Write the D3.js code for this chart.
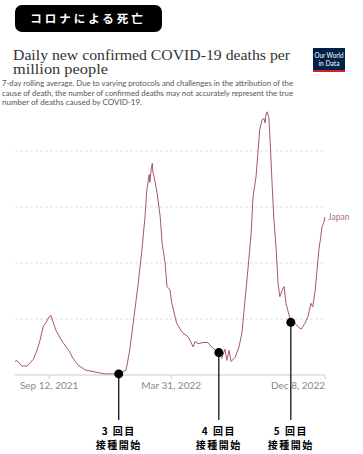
<!DOCTYPE html>
<html>
<head>
<meta charset="utf-8">
<script src="https://cdn.jsdelivr.net/npm/d3@7"></script>
<style>
  body { margin: 0; background: #fff; }
  svg { display: block; }
</style>
</head>
<body>
<div id="chart"></div>
<script>
// Japan, daily new confirmed COVID-19 deaths per million (7-day avg)
var dates = [
  "2021-07-18","2021-07-21","2021-07-29","2021-08-07","2021-08-17","2021-08-23","2021-08-28",
  "2021-09-02","2021-09-07","2021-09-12","2021-09-15","2021-09-18","2021-09-23","2021-09-30",
  "2021-10-06","2021-10-14","2021-10-21","2021-10-29","2021-11-10","2021-11-26","2021-12-12",
  "2021-12-29","2022-01-04","2022-01-09","2022-01-16","2022-01-22","2022-01-29","2022-02-05",
  "2022-02-11","2022-02-16","2022-02-19","2022-02-23","2022-02-24","2022-02-26","2022-02-28",
  "2022-03-01","2022-03-03","2022-03-08","2022-03-13","2022-03-16","2022-03-21","2022-03-24",
  "2022-03-29","2022-04-01","2022-04-09","2022-04-18","2022-04-28","2022-05-06","2022-05-09",
  "2022-05-14","2022-05-22","2022-05-30","2022-06-07","2022-06-17","2022-06-22","2022-06-27",
  "2022-06-30","2022-07-04","2022-07-07","2022-07-14","2022-07-20","2022-07-25","2022-07-30",
  "2022-08-04","2022-08-09","2022-08-12","2022-08-17","2022-08-20","2022-08-23","2022-08-27",
  "2022-08-30","2022-09-01","2022-09-02","2022-09-04","2022-09-07","2022-09-09","2022-09-12",
  "2022-09-15","2022-09-19","2022-09-22","2022-09-25","2022-09-29","2022-10-02","2022-10-05",
  "2022-10-08","2022-10-13","2022-10-20","2022-10-25","2022-10-30","2022-11-05","2022-11-10",
  "2022-11-15","2022-11-18","2022-11-22","2022-11-25","2022-11-28","2022-12-01","2022-12-03",
  "2022-12-06","2022-12-08"
];
var values = [
  0.12,0.13,0.08,0.08,0.14,0.22,0.31,
  0.43,0.47,0.52,0.53,0.48,0.40,0.33,
  0.28,0.22,0.15,0.09,0.045,0.027,0.01,
  0.01,0.01,0.025,0.045,0.22,0.52,0.82,
  1.12,1.41,1.65,1.79,1.72,1.83,1.89,
  1.81,1.77,1.62,1.41,1.18,1.0,0.79,
  0.76,0.64,0.46,0.38,0.34,0.25,0.30,
  0.28,0.29,0.29,0.24,0.20,0.15,0.23,
  0.13,0.22,0.12,0.16,0.25,0.38,0.67,
  0.96,1.27,1.59,1.77,1.98,2.19,2.28,
  2.29,2.25,2.32,2.35,2.30,2.10,1.74,
  1.41,1.12,0.82,0.70,0.76,0.79,0.64,
  0.58,0.47,0.46,0.43,0.41,0.46,0.52,
  0.64,0.61,0.76,0.94,1.12,1.23,1.32,
  1.36,1.41
];

var doseDates = ["2022-01-04", "2022-06-17", "2022-10-13"];
var doseLabels = ["3 回目", "4 回目", "5 回目"];
var tickDates = ["2021-09-12", "2022-03-31", "2022-12-08"];
var tickLabels = ["Sep 12, 2021", "Mar 31, 2022", "Dec 8, 2022"];
var gridValues = [0.5, 1, 1.5, 2];

var W = 363, H = 454;
var parse = d3.timeParse("%Y-%m-%d");
var series = dates.map(function(d, i) { return {date: parse(d), value: values[i]}; });

var svg = d3.select("#chart").append("svg")
    .attr("width", W)
    .attr("height", H);

// header badge
svg.append("rect")
    .attr("x", 15).attr("y", 5)
    .attr("width", 147).attr("height", 27)
    .attr("rx", 7)
    .attr("fill", "#000");
svg.append("text")
    .attr("x", 88).attr("y", 23)
    .attr("text-anchor", "middle")
    .attr("fill", "#fff")
    .style("font-family", "'Noto Sans CJK JP', sans-serif")
    .style("font-weight", "700")
    .style("font-size", "11.5px")
    .style("letter-spacing", "3px")
    .text("コロナによる死亡");

// title, two lines in one text block
var title = svg.append("text")
    .style("font-family", "'Liberation Serif', 'DejaVu Serif', serif")
    .style("font-size", "15px")
    .attr("fill", "#333");
title.append("tspan").attr("x", 13).attr("y", 60)
    .attr("textLength", 277).attr("lengthAdjust", "spacingAndGlyphs")
    .text("Daily new confirmed COVID-19 deaths per");
title.append("tspan").attr("x", 13).attr("y", 74)
    .attr("textLength", 95).attr("lengthAdjust", "spacingAndGlyphs")
    .text("million people");

var subtitle = [
  ["7-day rolling average. Due to varying protocols and challenges in the attribution of the", 291],
  ["cause of death, the number of confirmed deaths may not accurately represent the true", 291],
  ["number of deaths caused by COVID-19.", 140]
];
svg.append("g")
    .style("font-family", "Lato, sans-serif")
    .style("font-size", "7.3px")
    .attr("fill", "#555")
  .selectAll("text")
  .data(subtitle)
  .join("text")
    .attr("x", 2)
    .attr("y", function(d, i) { return 86 + i * 9.5; })
    .attr("textLength", function(d) { return d[1]; })
    .attr("lengthAdjust", "spacingAndGlyphs")
    .text(function(d) { return d[0]; });

// OWID logo
var logo = svg.append("g").attr("transform", "translate(313,48)");
logo.append("rect").attr("width", 32).attr("height", 24).attr("fill", "#002147");
logo.append("rect").attr("y", 22).attr("width", 32).attr("height", 2).attr("fill", "#ce261e");
logo.selectAll("text")
  .data(["Our World", "in Data"])
  .join("text")
    .attr("x", 16)
    .attr("y", function(d, i) { return 9.5 + i * 8; })
    .attr("text-anchor", "middle")
    .attr("fill", "#fff")
    .style("font-family", "Lato, sans-serif")
    .style("font-size", "6.8px")
    .attr("textLength", function(d, i) { return i ? 21 : 29; })
    .attr("lengthAdjust", "spacingAndGlyphs")
    .text(function(d) { return d; });

// scales
var x = d3.scaleTime()
    .domain([parse(dates[0]), parse(dates[dates.length - 1])])
    .range([15, 325]);
var y = d3.scaleLinear()
    .domain([0, 2])
    .range([375, 151]);

// grid
svg.append("g").selectAll("line")
  .data(gridValues)
  .join("line")
    .attr("x1", 15).attr("x2", 325)
    .attr("y1", function(d) { return y(d); })
    .attr("y2", function(d) { return y(d); })
    .attr("stroke", "#e0e0e0")
    .attr("stroke-width", 1)
    .attr("stroke-dasharray", "3,2");

// x axis
var xAxis = svg.append("g");
xAxis.append("line")
    .attr("x1", 15).attr("x2", 325)
    .attr("y1", y(0)).attr("y2", y(0))
    .attr("stroke", "#ccc");
xAxis.selectAll("line.tick")
  .data(tickDates)
  .join("line")
    .attr("class", "tick")
    .attr("x1", function(d) { return x(parse(d)); })
    .attr("x2", function(d) { return x(parse(d)); })
    .attr("y1", y(0)).attr("y2", y(0) + 4)
    .attr("stroke", "#ccc");
xAxis.selectAll("text")
  .data(tickDates)
  .join("text")
    .attr("x", function(d) { return x(parse(d)); })
    .attr("y", 389)
    .attr("text-anchor", function(d, i) { return i === tickDates.length - 1 ? "end" : "middle"; })
    .attr("fill", "#888")
    .style("font-family", "Lato, sans-serif")
    .style("font-size", "10px")
    .text(function(d, i) { return tickLabels[i]; });

// line
var line = d3.line()
    .x(function(d) { return x(d.date); })
    .y(function(d) { return y(d.value); });

svg.append("path")
    .datum(series)
    .attr("d", line)
    .attr("fill", "none")
    .attr("stroke", "#a65866")
    .attr("stroke-width", 1);

var last = series[series.length - 1];
svg.append("text")
    .attr("x", x(last.date) + 3)
    .attr("y", y(last.value) + 3)
    .attr("fill", "#b0707a")
    .style("font-family", "Lato, sans-serif")
    .style("font-size", "8.5px")
    .text("Japan");

// dose markers
var bisect = d3.bisector(function(d) { return d.date; }).left;
function valueAt(t) {
  var i = bisect(series, t);
  if (i <= 0) return series[0].value;
  var a = series[i - 1], b = series[i];
  var k = (t - a.date) / (b.date - a.date);
  return a.value + (b.value - a.value) * k;
}

var doses = svg.append("g").selectAll("g")
  .data(doseDates)
  .join("g")
    .attr("transform", function(d) { return "translate(" + x(parse(d)) + ",0)"; });

doses.append("line")
    .attr("y1", function(d) { return y(valueAt(parse(d))); })
    .attr("y2", 420)
    .attr("stroke", "#000")
    .attr("stroke-width", 1.2);
doses.append("circle")
    .attr("cy", function(d) { return y(valueAt(parse(d))); })
    .attr("r", 4.5)
    .attr("fill", "#000");
doses.append("text")
    .attr("y", 435)
    .attr("text-anchor", "middle")
    .style("font-family", "'Noto Sans CJK JP', sans-serif")
    .style("font-weight", "700")
    .style("font-size", "10px")
    .style("letter-spacing", "1.5px")
    .text(function(d, i) { return doseLabels[i]; });
doses.append("text")
    .attr("y", 449)
    .attr("text-anchor", "middle")
    .style("font-family", "'Noto Sans CJK JP', sans-serif")
    .style("font-weight", "700")
    .style("font-size", "10px")
    .style("letter-spacing", "1.5px")
    .text("接種開始");
</script>
</body>
</html>
